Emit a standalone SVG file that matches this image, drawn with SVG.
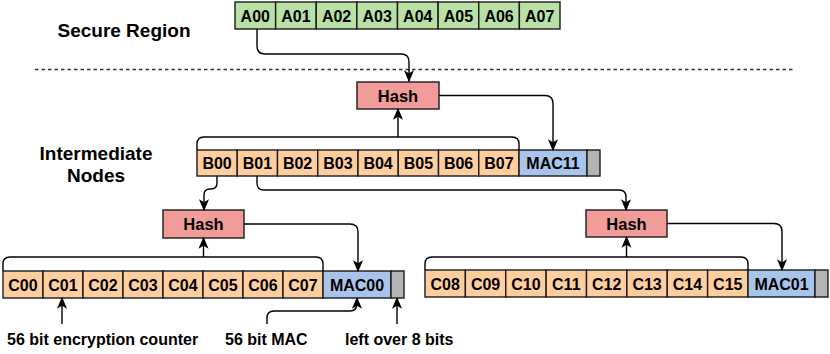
<svg xmlns="http://www.w3.org/2000/svg" width="830" height="354" viewBox="0 0 830 354">
<style>
text{font-family:"Liberation Sans",Arial,Helvetica,sans-serif;font-weight:bold;fill:#000}
.c{font-size:16px;text-anchor:middle}
.h{font-size:16.5px;text-anchor:middle}
.lbl{font-size:19px;text-anchor:middle}
.note{font-size:16px}
rect{stroke:#1a1a1a;stroke-width:1.4}
.g{fill:#b9e0a5}
.o{fill:#ffce9f}
.b{fill:#a9c4eb}
.gr{fill:#b3b3b3}
.r{fill:#f19c99}
.ln{fill:none;stroke:#000;stroke-width:1.4}
.ar{marker-end:url(#arr)}
</style>
<defs>
<marker id="arr" viewBox="0 0 10 10" refX="9" refY="5" markerWidth="12" markerHeight="12" markerUnits="userSpaceOnUse" orient="auto">
<path d="M0,0.8 L10,5 L0,9.2 L2.5,5 z" fill="#000"/>
</marker>
</defs>

<g id="label-secure"><text class="lbl" x="124" y="37">Secure Region</text></g>
<g id="label-intermediate"><text class="lbl" x="96" y="160">Intermediate</text><text class="lbl" x="96" y="182">Nodes</text></g>
<line id="divider" x1="35" y1="69.5" x2="793" y2="69.5" stroke="#333" stroke-width="1.3" stroke-dasharray="3.5 3"/>

<g id="row-a">
<rect class="g" x="235" y="2" width="40.625" height="27"/>
<rect class="g" x="275.625" y="2" width="40.625" height="27"/>
<rect class="g" x="316.25" y="2" width="40.625" height="27"/>
<rect class="g" x="356.875" y="2" width="40.625" height="27"/>
<rect class="g" x="397.5" y="2" width="40.625" height="27"/>
<rect class="g" x="438.125" y="2" width="40.625" height="27"/>
<rect class="g" x="478.75" y="2" width="40.625" height="27"/>
<rect class="g" x="519.375" y="2" width="40.625" height="27"/>
<text class="c" x="255.3" y="21.5">A00</text>
<text class="c" x="295.9" y="21.5">A01</text>
<text class="c" x="336.6" y="21.5">A02</text>
<text class="c" x="377.2" y="21.5">A03</text>
<text class="c" x="417.8" y="21.5">A04</text>
<text class="c" x="458.4" y="21.5">A05</text>
<text class="c" x="499.1" y="21.5">A06</text>
<text class="c" x="539.7" y="21.5">A07</text>
</g>

<g id="hash-top"><rect class="r" x="357" y="82" width="82" height="27"/><text class="h" x="398" y="101.5">Hash</text></g>

<g id="row-b">
<rect class="o" x="197" y="150" width="40.25" height="26"/>
<rect class="o" x="237.25" y="150" width="40.25" height="26"/>
<rect class="o" x="277.5" y="150" width="40.25" height="26"/>
<rect class="o" x="317.75" y="150" width="40.25" height="26"/>
<rect class="o" x="358" y="150" width="40.25" height="26"/>
<rect class="o" x="398.25" y="150" width="40.25" height="26"/>
<rect class="o" x="438.5" y="150" width="40.25" height="26"/>
<rect class="o" x="478.75" y="150" width="40.25" height="26"/>
<rect class="b" x="519" y="150" width="68" height="26"/>
<rect class="gr" x="587" y="150" width="13" height="26"/>
<text class="c" x="217.1" y="169">B00</text>
<text class="c" x="257.4" y="169">B01</text>
<text class="c" x="297.6" y="169">B02</text>
<text class="c" x="337.9" y="169">B03</text>
<text class="c" x="378.1" y="169">B04</text>
<text class="c" x="418.4" y="169">B05</text>
<text class="c" x="458.6" y="169">B06</text>
<text class="c" x="498.9" y="169">B07</text>
<text class="c" x="553" y="169">MAC11</text>
</g>

<g id="hash-left"><rect class="r" x="163" y="210" width="81" height="28"/><text class="h" x="203.5" y="230">Hash</text></g>
<g id="hash-right"><rect class="r" x="586" y="210" width="81" height="27"/><text class="h" x="626.5" y="229.5">Hash</text></g>

<g id="row-c-left">
<rect class="o" x="3" y="271" width="40" height="27"/>
<rect class="o" x="43" y="271" width="40" height="27"/>
<rect class="o" x="83" y="271" width="40" height="27"/>
<rect class="o" x="123" y="271" width="40" height="27"/>
<rect class="o" x="163" y="271" width="40" height="27"/>
<rect class="o" x="203" y="271" width="40" height="27"/>
<rect class="o" x="243" y="271" width="40" height="27"/>
<rect class="o" x="283" y="271" width="40" height="27"/>
<rect class="b" x="323" y="271" width="68" height="27"/>
<rect class="gr" x="391" y="271" width="13" height="27"/>
<text class="c" x="23" y="290.5">C00</text>
<text class="c" x="63" y="290.5">C01</text>
<text class="c" x="103" y="290.5">C02</text>
<text class="c" x="143" y="290.5">C03</text>
<text class="c" x="183" y="290.5">C04</text>
<text class="c" x="223" y="290.5">C05</text>
<text class="c" x="263" y="290.5">C06</text>
<text class="c" x="303" y="290.5">C07</text>
<text class="c" x="357" y="290.5">MAC00</text>
</g>

<g id="row-c-right">
<rect class="o" x="425" y="270" width="40.375" height="27"/>
<rect class="o" x="465.375" y="270" width="40.375" height="27"/>
<rect class="o" x="505.75" y="270" width="40.375" height="27"/>
<rect class="o" x="546.125" y="270" width="40.375" height="27"/>
<rect class="o" x="586.5" y="270" width="40.375" height="27"/>
<rect class="o" x="626.875" y="270" width="40.375" height="27"/>
<rect class="o" x="667.25" y="270" width="40.375" height="27"/>
<rect class="o" x="707.625" y="270" width="40.375" height="27"/>
<rect class="b" x="748" y="270" width="67" height="27"/>
<rect class="gr" x="815" y="270" width="13" height="27"/>
<text class="c" x="445.2" y="289.5">C08</text>
<text class="c" x="485.6" y="289.5">C09</text>
<text class="c" x="525.9" y="289.5">C10</text>
<text class="c" x="566.3" y="289.5">C11</text>
<text class="c" x="606.7" y="289.5">C12</text>
<text class="c" x="647.1" y="289.5">C13</text>
<text class="c" x="687.4" y="289.5">C14</text>
<text class="c" x="727.8" y="289.5">C15</text>
<text class="c" x="781.5" y="289.5">MAC01</text>
</g>

<g id="note-counter"><text class="note" x="7" y="345">56 bit encryption counter</text></g>
<g id="note-mac"><text class="note" x="225" y="345">56 bit MAC</text></g>
<g id="note-left"><text class="note" x="345" y="345">left over 8 bits</text></g>

<g id="connectors">
<path class="ln ar" d="M257,29 V46 Q257,54 265,54 H401 Q409,54 409,62 V81"/>
<path class="ln" d="M197,150 V144 Q197,137 204,137 H512 Q519,137 519,144 V150"/>
<path class="ln ar" d="M398,137 V109"/>
<path class="ln ar" d="M439,95.5 H545 Q553,95.5 553,103.5 V150"/>
<path class="ln ar" d="M217,176 V183 Q217,189 211,189 H210 Q204,189 204,195 V210"/>
<path class="ln ar" d="M257,176 V183 Q257,190 264,190 H619 Q626,190 626,197 V210"/>
<path class="ln" d="M3,271 V264 Q3,257 10,257 H316 Q323,257 323,264 V271"/>
<path class="ln ar" d="M203.5,257 V238"/>
<path class="ln ar" d="M244,224 H350 Q358,224 358,232 V271"/>
<path class="ln" d="M425,270 V264 Q425,257 432,257 H741 Q748,257 748,264 V270"/>
<path class="ln ar" d="M626.5,257 V237"/>
<path class="ln ar" d="M667,223.5 H774 Q782,223.5 782,231.5 V270"/>
<path class="ln ar" d="M62,324 V298"/>
<path class="ln ar" d="M267,324 V318 Q267,311 274,311 H350 Q357,311 357,303 V298"/>
<path class="ln ar" d="M397,324 V298"/>
</g>
</svg>
